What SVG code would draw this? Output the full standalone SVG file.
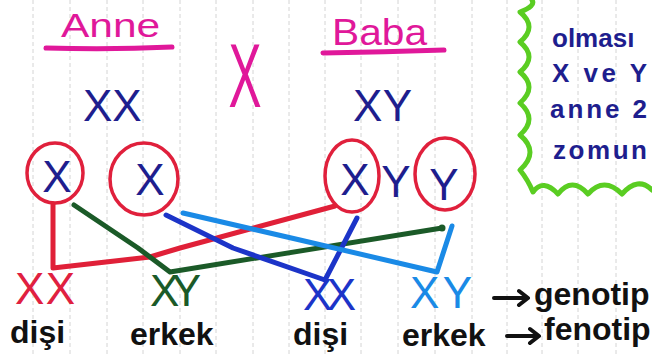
<svg xmlns="http://www.w3.org/2000/svg" width="652" height="356" viewBox="0 0 652 356">
<style>
.grid{stroke:#d4d4d4;stroke-width:1;stroke-dasharray:4 3}
.t{font-family:"Liberation Sans",Arial,sans-serif}
.pink{fill:#e0189a}
.navy{fill:#1e1e8e}
.ring{fill:none;stroke:#e0203c;stroke-width:3.5}
.line{fill:none;stroke-width:5;stroke-linecap:round;stroke-linejoin:round}
.lbl{font-family:"Liberation Sans",Arial,sans-serif;font-weight:bold;fill:#111;font-size:32px}
.chrom{font-family:"Liberation Sans",Arial,sans-serif;font-size:44px}
.arrow{fill:none;stroke:#111;stroke-width:4;stroke-linecap:round;stroke-linejoin:round}
</style>
<rect width="652" height="356" fill="#ffffff"/>
<g id="grid">
<line class="grid" x1="33" y1="0" x2="33" y2="356"/>
<line class="grid" x1="70" y1="0" x2="70" y2="356"/>
<line class="grid" x1="107" y1="0" x2="107" y2="356"/>
<line class="grid" x1="143" y1="0" x2="143" y2="356"/>
<line class="grid" x1="180" y1="0" x2="180" y2="356"/>
<line class="grid" x1="216" y1="0" x2="216" y2="356"/>
<line class="grid" x1="253" y1="0" x2="253" y2="356"/>
<line class="grid" x1="289" y1="0" x2="289" y2="356"/>
<line class="grid" x1="325" y1="0" x2="325" y2="356"/>
<line class="grid" x1="361" y1="0" x2="361" y2="356"/>
<line class="grid" x1="398" y1="0" x2="398" y2="356"/>
<line class="grid" x1="435" y1="0" x2="435" y2="356"/>
<line class="grid" x1="472" y1="0" x2="472" y2="356"/>
<line class="grid" x1="507" y1="0" x2="507" y2="356"/>
<line class="grid" x1="542" y1="0" x2="542" y2="356"/>
<line class="grid" x1="578" y1="0" x2="578" y2="356"/>
<line class="grid" x1="616" y1="0" x2="616" y2="356"/>
</g>

<g id="note-box">
<path d="M532 0 Q536 6 520 12 Q538 27 520 42 Q538 57 520 72 Q538 87 520 103 Q538 119 520 135 Q540 152 520 170 Q528 180 533 192 Q543 178 558 194 Q572 176 588 194 Q604 176 622 194 Q638 176 652 190" fill="none" stroke="#5acd22" stroke-width="5" stroke-linecap="round" stroke-linejoin="round"/>
<text class="t navy" x="552" y="47" font-size="26" font-weight="bold">olması</text>
<text class="t navy" x="552" y="82" font-size="26" font-weight="bold" textLength="95" lengthAdjust="spacing">X ve Y</text>
<text class="t navy" x="550" y="118" font-size="26" font-weight="bold" textLength="97" lengthAdjust="spacing">anne 2</text>
<text class="t navy" x="553" y="159" font-size="26" font-weight="bold" textLength="94" lengthAdjust="spacing">zomun</text>
</g>

<g id="anne">
<text class="t pink" transform="translate(61 37) scale(1.25 1)" font-size="34">Anne</text>
<path d="M46 48 Q110 50 172 47" class="line" stroke="#e0189a" stroke-width="4.5"/>
<text class="chrom navy" x="83" y="121">XX</text>
</g>

<g id="baba">
<text class="t pink" transform="translate(332 45) scale(1.1 1)" font-size="37">Baba</text>
<path d="M323 53 Q385 52 444 50" class="line" stroke="#e0189a" stroke-width="4.5"/>
<text class="chrom navy" x="353" y="121" textLength="59" lengthAdjust="spacing">XY</text>
</g>

<g id="cross">
<text class="t pink" transform="translate(245 107) scale(0.55 1)" text-anchor="middle" font-size="90">X</text>
</g>

<g id="gamete-anne-1">
<ellipse class="ring" cx="55" cy="173" rx="28" ry="30"/>
<text class="chrom navy" x="57" y="192" text-anchor="middle" font-size="44">X</text>
</g>
<g id="gamete-anne-2">
<ellipse class="ring" cx="144" cy="179" rx="34" ry="36"/>
<text class="chrom navy" x="150" y="195" text-anchor="middle" font-size="44">X</text>
</g>
<g id="gamete-baba-1">
<ellipse class="ring" cx="352" cy="176" rx="27" ry="36"/>
<text class="chrom navy" x="355" y="195" text-anchor="middle" font-size="44">X</text>
</g>
<g id="mid-y">
<text class="chrom navy" x="396" y="197" text-anchor="middle" font-size="46">Y</text>
</g>
<g id="gamete-baba-2">
<ellipse class="ring" cx="445" cy="174" rx="30" ry="36"/>
<text class="chrom navy" x="444" y="200" text-anchor="middle" font-size="52">Y</text>
</g>

<g id="connectors">
<polyline class="line" stroke="#e02038" points="53,204 53,268 150,257 180,248 335,206"/>
<polyline class="line" stroke="#1b5a28" points="74,205 138,248 170,272 442,228"/>
<circle cx="442" cy="228" r="3.5" fill="#1b5a28"/>
<polyline class="line" stroke="#1c34c8" points="166,215 233,248 325,280"/>
<polyline class="line" stroke="#1c34c8" points="357,218 325,280"/>
<polyline class="line" stroke="#1a8ae6" points="183,213 300,240 437,272 452,226"/>
</g>

<g id="child-1">
<text class="chrom" fill="#e02040" x="15" y="304" font-size="43" textLength="60" lengthAdjust="spacing">XX</text>
<text class="lbl" x="10" y="343">dişi</text>
</g>
<g id="child-2">
<text class="chrom" fill="#1b5a28" x="150" y="306" font-size="42" textLength="51" lengthAdjust="spacing">XY</text>
<text class="lbl" x="130" y="345">erkek</text>
</g>
<g id="child-3">
<text class="chrom" fill="#1c34c8" x="303" y="310" font-size="42" textLength="53" lengthAdjust="spacing">XX</text>
<text class="lbl" x="293" y="345">dişi</text>
</g>
<g id="child-4">
<text class="chrom" fill="#1a8ae6" x="410" y="308" font-size="44" textLength="62" lengthAdjust="spacing">XY</text>
<text class="lbl" x="402" y="346">erkek</text>
</g>

<g id="genotip">
<path class="arrow" d="M494 298 L527 298 M519 291 L528 298 L519 305"/>
<text class="lbl" x="534" y="305" font-size="30">genotip</text>
</g>
<g id="fenotip">
<path class="arrow" d="M507 336 L538 336 M530 329 L539 336 L530 343"/>
<text class="lbl" x="544" y="340" font-size="27">fenotip</text>
</g>
</svg>
